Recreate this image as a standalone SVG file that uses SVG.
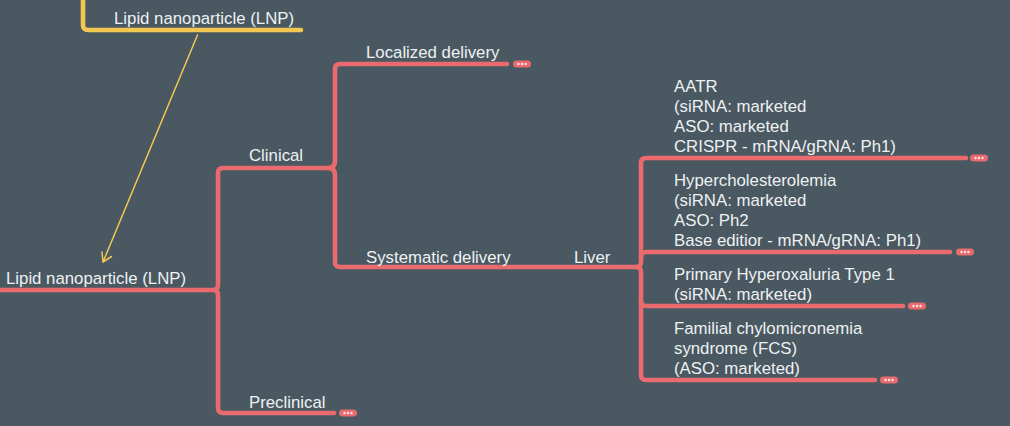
<svg xmlns="http://www.w3.org/2000/svg" width="1010" height="426" viewBox="0 0 1010 426">
<style>
.bg{fill:#4a5861}
.t{font-family:"Liberation Sans",Arial,sans-serif;font-size:16.8px;fill:#eef1f3}
.r{fill:none;stroke:#ea6b6f;stroke-width:4.600;stroke-linecap:round;stroke-linejoin:round}
.y{fill:none;stroke:#f3c851;stroke-width:4.600;stroke-linecap:round}
.a{fill:none;stroke:#f3c851;stroke-width:1.5;stroke-linecap:round;stroke-linejoin:round}
.p{fill:#ea6b6f}
.d{fill:#f6e6e6}
</style>
<defs>
<g id="more"><rect x="0" y="-3.500" width="18" height="7" rx="3.500" class="p"/><circle cx="5.500" cy="0" r="1.200" class="d"/><circle cx="9" cy="0" r="1.200" class="d"/><circle cx="12.500" cy="0" r="1.200" class="d"/></g>
</defs>
<rect class="bg" width="1010" height="426"/>
<g id="connectors">
<path class="y" d="M83 0V25Q83 30 88 30H301"/>
<path class="a" d="M197.500 35L103 262M103 262L111.500 256.500M103 262L102 252"/>
<path class="r" d="M0 290H213Q218 290 218 285V173Q218 168 223 168H328Q335 168 335 161V69Q335 64 340 64H507"/>
<path class="r" d="M213 290Q218 290 218 295V408Q218 413 223 413H334"/>
<path class="r" d="M328 168Q335 168 335 175V262Q335 267 340 267H636"/>
<path class="r" d="M636 267Q641 267 641 262V163Q641 158 646 158H966"/>
<path class="r" d="M636 267Q641 267 641 272V375Q641 380 646 380H875"/>
<path class="r" d="M641 257Q641 252 646 252H950"/>
<path class="r" d="M641 301Q641 306 646 306H903"/>
</g>
<g id="node-top-lnp"><text class="t" x="114" y="24">Lipid nanoparticle (LNP)</text></g>
<g id="node-lnp"><text class="t" x="6" y="284">Lipid nanoparticle (LNP)</text></g>
<g id="node-clinical"><text class="t" x="249" y="161">Clinical</text></g>
<g id="node-preclinical"><text class="t" x="249" y="408">Preclinical</text><use href="#more" x="339" y="413"/></g>
<g id="node-localized"><text class="t" x="366" y="58">Localized delivery</text><use href="#more" x="513" y="64"/></g>
<g id="node-systematic"><text class="t" x="366" y="263">Systematic delivery</text></g>
<g id="node-liver"><text class="t" x="574" y="263">Liver</text></g>
<g id="node-aatr"><text class="t" x="674" y="92">AATR</text><text class="t" x="674" y="112">(siRNA: marketed</text><text class="t" x="674" y="132">ASO: marketed</text><text class="t" x="674" y="152">CRISPR - mRNA/gRNA: Ph1)</text><use href="#more" x="970" y="158"/></g>
<g id="node-hyper"><text class="t" x="674" y="186">Hypercholesterolemia</text><text class="t" x="674" y="206">(siRNA: marketed</text><text class="t" x="674" y="226">ASO: Ph2</text><text class="t" x="674" y="246">Base editior - mRNA/gRNA: Ph1)</text><use href="#more" x="956" y="252"/></g>
<g id="node-primary"><text class="t" x="674" y="280">Primary Hyperoxaluria Type 1</text><text class="t" x="674" y="300">(siRNA: marketed)</text><use href="#more" x="908" y="306"/></g>
<g id="node-familial"><text class="t" x="674" y="334">Familial chylomicronemia</text><text class="t" x="674" y="354">syndrome (FCS)</text><text class="t" x="674" y="374">(ASO: marketed)</text><use href="#more" x="880" y="380"/></g>
</svg>
